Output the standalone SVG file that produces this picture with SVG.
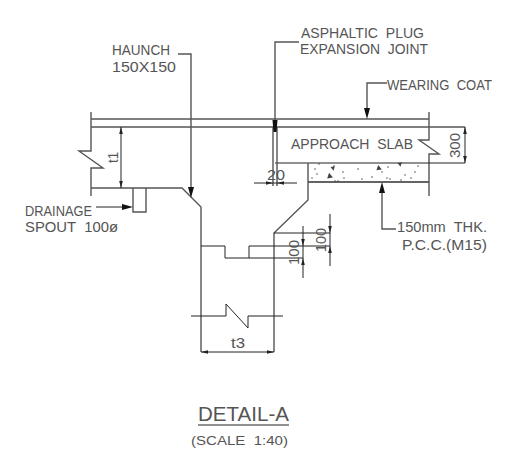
<svg xmlns="http://www.w3.org/2000/svg" width="509" height="450" viewBox="0 0 509 450">
<style>
.h{fill:none;stroke:#555;stroke-width:1.4}
.t{fill:none;stroke:#222;stroke-width:1}
text{font-family:"Liberation Sans",Arial,sans-serif;fill:#555;font-size:15.5px;white-space:pre}
.d{fill:#333;stroke:none}
</style>
<defs>
<polygon id="s" points="0,0 -7,-1.8 -7,1.8" fill="#222"/>
<polygon id="b" points="0,0 -11,-3 -11,3" fill="#111"/>
<polygon id="k" points="-1.2,-1.4 -2.4,2.2 1.2,1.6" fill="#444"/>
</defs>
<rect width="509" height="450" fill="#fff"/>
<g id="structure">
<path class="h" d="M91 119H429M91 127H465"/>
<path class="h" d="M91 112V151L79 151L103 168H91V196M91 188H182L201 207V352M133 188V212H146V188"/>
<path class="h" d="M429 112V140H419L439 154H429V196"/>
<path class="t" d="M275 163H465M308 182H429"/>
<path class="h" d="M308 163V200L274 233V352M308 182H429"/>
<path class="h" d="M273 127V186M277 127V186"/>
<path class="t" d="M201 246H225V258H303M249 258V246H330M274 233H330"/>
<path class="t" d="M191 316H226V304L248 328V316H283"/>
</g>
<g id="stipple">
<g class="d">
<circle cx="315" cy="169" r=".7"/><circle cx="317" cy="174" r=".7"/><circle cx="312" cy="178" r=".7"/><circle cx="343" cy="172" r=".7"/><circle cx="344" cy="178" r=".7"/><circle cx="358" cy="169" r=".7"/><circle cx="362" cy="179" r=".7"/><circle cx="372" cy="177" r=".7"/><circle cx="382" cy="172" r=".7"/><circle cx="388" cy="167" r=".7"/><circle cx="387" cy="178" r=".7"/><circle cx="390" cy="179" r=".7"/><circle cx="405" cy="175" r=".7"/><circle cx="411" cy="178" r=".7"/><circle cx="401" cy="180" r=".7"/><circle cx="415" cy="172" r=".7"/><circle cx="418" cy="166" r=".7"/><circle cx="335" cy="181" r=".7"/><circle cx="338" cy="181" r=".7"/><circle cx="319" cy="164" r=".7"/><circle cx="334" cy="166" r=".7"/>
</g>
<use href="#k" transform="translate(331 175) scale(1.6)"/>
<use href="#k" transform="translate(332 169) rotate(180) scale(1.2)"/>
<use href="#k" transform="translate(380 167) scale(1.5)"/>
<use href="#k" transform="translate(399 165) rotate(180) scale(1.2)"/>
</g>
<g id="connectors">
<path class="h" d="M299 42H275V120"/>
<polygon points="272.5,120 277.5,120 276.5,132 273.5,132" fill="#111"/>
<path class="h" d="M387 83H367V110"/>
<use href="#b" transform="translate(367 119) rotate(90)"/>
<path class="h" d="M178 54H191V188"/>
<use href="#b" transform="translate(191 198) rotate(90)"/>
<path class="t" d="M96 207H124"/>
<use href="#b" transform="translate(133 207)"/>
<path class="h" d="M382 191V229H396"/>
<use href="#b" transform="translate(382 182) rotate(-90)"/>
<path class="t" d="M121 127V188"/>
<use href="#s" transform="translate(121 127) rotate(-90)"/><use href="#s" transform="translate(121 188) rotate(90)"/>
<path class="t" d="M254 183H297"/>
<use href="#s" transform="translate(273 183)"/><use href="#s" transform="translate(277 183) rotate(180)"/>
<path class="t" d="M465 127V163"/>
<use href="#s" transform="translate(465 127) rotate(-90)"/><use href="#s" transform="translate(465 163) rotate(90)"/>
<path class="t" d="M303 226V278M330 214V266"/>
<use href="#s" transform="translate(303 246) rotate(90)"/><use href="#s" transform="translate(303 258) rotate(-90)"/>
<use href="#s" transform="translate(330 233) rotate(90)"/><use href="#s" transform="translate(330 246) rotate(-90)"/>
<path class="t" d="M201 352H274"/>
<use href="#s" transform="translate(201 352) rotate(180)"/><use href="#s" transform="translate(274 352)"/>
<path class="t" d="M198 425H289"/>
</g>
<g id="label-haunch"><text x="112" y="55" textLength="58" lengthAdjust="spacingAndGlyphs">HAUNCH</text><text x="112" y="72" textLength="64" lengthAdjust="spacingAndGlyphs">150X150</text></g>
<g id="label-asphaltic"><text x="301" y="38" textLength="123" lengthAdjust="spacingAndGlyphs" xml:space="preserve">ASPHALTIC  PLUG</text><text x="300" y="54" textLength="128" lengthAdjust="spacingAndGlyphs" xml:space="preserve">EXPANSION  JOINT</text></g>
<g id="label-wearing"><text transform="translate(387 90) scale(.843 1)" xml:space="preserve">WEARING  COAT</text></g>
<g id="label-slab"><text x="291" y="149" textLength="122" lengthAdjust="spacingAndGlyphs" xml:space="preserve">APPROACH  SLAB</text></g>
<g id="label-drainage"><text x="25" y="216" textLength="67" lengthAdjust="spacingAndGlyphs">DRAINAGE</text><text x="25" y="232" textLength="93" lengthAdjust="spacingAndGlyphs" xml:space="preserve">SPOUT  100ø</text></g>
<g id="label-pcc"><text x="397" y="232" textLength="90" lengthAdjust="spacingAndGlyphs" xml:space="preserve">150mm  THK.</text><text x="402" y="250" textLength="85" lengthAdjust="spacingAndGlyphs">P.C.C.(M15)</text></g>
<g id="dim-labels">
<text transform="translate(118 163) rotate(-90)" textLength="11" lengthAdjust="spacingAndGlyphs">t1</text>
<text x="231" y="348" textLength="14" lengthAdjust="spacingAndGlyphs">t3</text>
<text x="267" y="180" textLength="18" lengthAdjust="spacingAndGlyphs">20</text>
<text transform="translate(460 158) rotate(-90)" textLength="25" lengthAdjust="spacingAndGlyphs">300</text>
<text transform="translate(299 265) rotate(-90)" textLength="25" lengthAdjust="spacingAndGlyphs">100</text>
<text transform="translate(326 252) rotate(-90)" textLength="24" lengthAdjust="spacingAndGlyphs">100</text>
</g>
<g id="title"><text x="198" y="421" style="font-size:21px" textLength="91" lengthAdjust="spacingAndGlyphs">DETAIL-A</text><text x="191" y="445" style="font-size:13.5px" textLength="97" lengthAdjust="spacingAndGlyphs" xml:space="preserve">(SCALE  1:40)</text></g>
</svg>
